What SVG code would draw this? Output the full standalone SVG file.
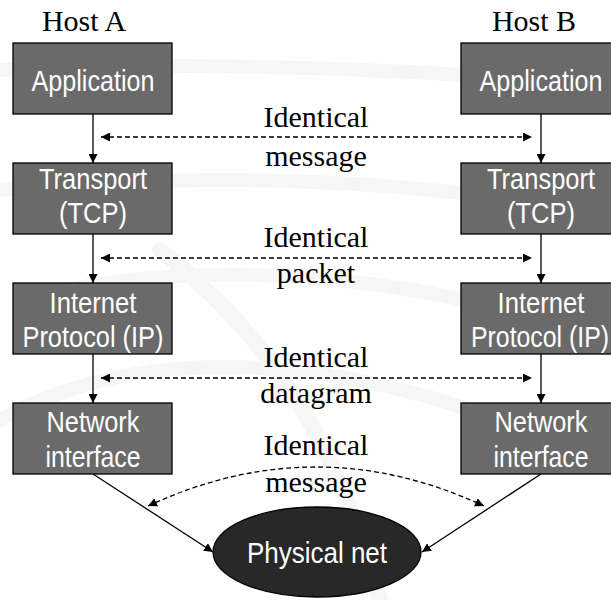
<svg xmlns="http://www.w3.org/2000/svg" width="611" height="600" viewBox="0 0 611 600">
  <defs>
    <marker id="ah" viewBox="0 0 10 10" refX="10" refY="5" markerWidth="9" markerHeight="9" markerUnits="userSpaceOnUse" orient="auto-start-reverse">
      <path d="M0,0 L10,5 L0,10 Z" fill="#000"/>
    </marker>
    <style>
      .box { fill: #6a6a6a; stroke: #000; stroke-width: 1.3; }
      .bt { font-family: "Liberation Sans", Arial, sans-serif; font-size: 29px; fill: #fff; text-anchor: middle; }
      .lbl { font-family: "Liberation Serif", "Times New Roman", serif; font-size: 30px; fill: #000; text-anchor: middle; }
      .solid { stroke: #000; stroke-width: 1.3; fill: none; }
      .dash { stroke: #000; stroke-width: 1.3; fill: none; stroke-dasharray: 5 3; }
      .bg { stroke: #f6f6f6; fill: none; stroke-linecap: round; }
    </style>
  </defs>
  <rect width="611" height="600" fill="#fff"/>
  <g id="background">
    <path class="bg" stroke-width="14" d="M0,70 C200,60 420,70 611,85"/>
    <path class="bg" stroke-width="14" d="M0,190 C220,170 420,180 611,215"/>
    <path class="bg" stroke-width="14" d="M20,300 C220,250 430,280 611,340"/>
    <path class="bg" stroke-width="14" d="M0,420 C160,330 400,360 611,470"/>
    <path class="bg" stroke-width="16" d="M160,250 C260,330 330,420 380,600"/>
  </g>
  <g id="host-labels">
    <text class="lbl" x="84" y="31">Host A</text>
    <text class="lbl" x="534" y="31">Host B</text>
  </g>
  <g id="connectors">
    <line class="solid" x1="93" y1="114" x2="93" y2="163" marker-end="url(#ah)"/>
    <line class="solid" x1="93" y1="234" x2="93" y2="283" marker-end="url(#ah)"/>
    <line class="solid" x1="93" y1="354" x2="93" y2="403" marker-end="url(#ah)"/>
    <line class="solid" x1="541" y1="114" x2="541" y2="163" marker-end="url(#ah)"/>
    <line class="solid" x1="541" y1="234" x2="541" y2="283" marker-end="url(#ah)"/>
    <line class="solid" x1="541" y1="354" x2="541" y2="403" marker-end="url(#ah)"/>
    <line class="solid" x1="93" y1="474" x2="213" y2="552" marker-end="url(#ah)"/>
    <line class="solid" x1="541" y1="474" x2="422" y2="552" marker-end="url(#ah)"/>
    <line class="dash" x1="101" y1="137" x2="532" y2="137" marker-start="url(#ah)" marker-end="url(#ah)"/>
    <line class="dash" x1="101" y1="258" x2="532" y2="258" marker-start="url(#ah)" marker-end="url(#ah)"/>
    <line class="dash" x1="101" y1="378" x2="532" y2="378" marker-start="url(#ah)" marker-end="url(#ah)"/>
    <path class="dash" d="M148,506 Q316,428 484,506" marker-start="url(#ah)" marker-end="url(#ah)"/>
  </g>
  <g id="edge-labels">
    <text class="lbl" x="316" y="127">Identical</text>
    <text class="lbl" x="316" y="166">message</text>
    <text class="lbl" x="316" y="247">Identical</text>
    <text class="lbl" x="316" y="283">packet</text>
    <text class="lbl" x="316" y="367">Identical</text>
    <text class="lbl" x="316" y="403">datagram</text>
    <text class="lbl" x="316" y="455">Identical</text>
    <text class="lbl" x="316" y="492">message</text>
  </g>
  <g id="a-application">
    <rect class="box" x="13" y="43" width="159" height="71"/>
    <text class="bt" x="93" y="91" textLength="123" lengthAdjust="spacingAndGlyphs">Application</text>
  </g>
  <g id="a-transport">
    <rect class="box" x="13" y="163" width="159" height="71"/>
    <text class="bt" x="93" y="189" textLength="108" lengthAdjust="spacingAndGlyphs">Transport</text>
    <text class="bt" x="93" y="223" textLength="68" lengthAdjust="spacingAndGlyphs">(TCP)</text>
  </g>
  <g id="a-ip">
    <rect class="box" x="13" y="283" width="159" height="71"/>
    <text class="bt" x="93" y="313" textLength="87" lengthAdjust="spacingAndGlyphs">Internet</text>
    <text class="bt" x="93" y="347" textLength="141" lengthAdjust="spacingAndGlyphs">Protocol (IP)</text>
  </g>
  <g id="a-network">
    <rect class="box" x="13" y="403" width="159" height="71"/>
    <text class="bt" x="93" y="432" textLength="93" lengthAdjust="spacingAndGlyphs">Network</text>
    <text class="bt" x="93" y="467" textLength="95" lengthAdjust="spacingAndGlyphs">interface</text>
  </g>
  <g id="b-application">
    <rect class="box" x="461" y="43" width="151" height="71"/>
    <text class="bt" x="541" y="91" textLength="123" lengthAdjust="spacingAndGlyphs">Application</text>
  </g>
  <g id="b-transport">
    <rect class="box" x="461" y="163" width="151" height="71"/>
    <text class="bt" x="541" y="189" textLength="108" lengthAdjust="spacingAndGlyphs">Transport</text>
    <text class="bt" x="541" y="223" textLength="68" lengthAdjust="spacingAndGlyphs">(TCP)</text>
  </g>
  <g id="b-ip">
    <rect class="box" x="461" y="283" width="151" height="71"/>
    <text class="bt" x="541" y="313" textLength="87" lengthAdjust="spacingAndGlyphs">Internet</text>
    <text class="bt" x="540" y="347" textLength="138" lengthAdjust="spacingAndGlyphs">Protocol (IP)</text>
  </g>
  <g id="b-network">
    <rect class="box" x="461" y="403" width="151" height="71"/>
    <text class="bt" x="541" y="432" textLength="93" lengthAdjust="spacingAndGlyphs">Network</text>
    <text class="bt" x="541" y="467" textLength="95" lengthAdjust="spacingAndGlyphs">interface</text>
  </g>
  <g id="physical-net">
    <ellipse cx="317" cy="552" rx="104" ry="45" fill="#282828" stroke="#000" stroke-width="1.3"/>
    <text class="bt" x="317" y="563" textLength="140" lengthAdjust="spacingAndGlyphs">Physical net</text>
  </g>
</svg>
